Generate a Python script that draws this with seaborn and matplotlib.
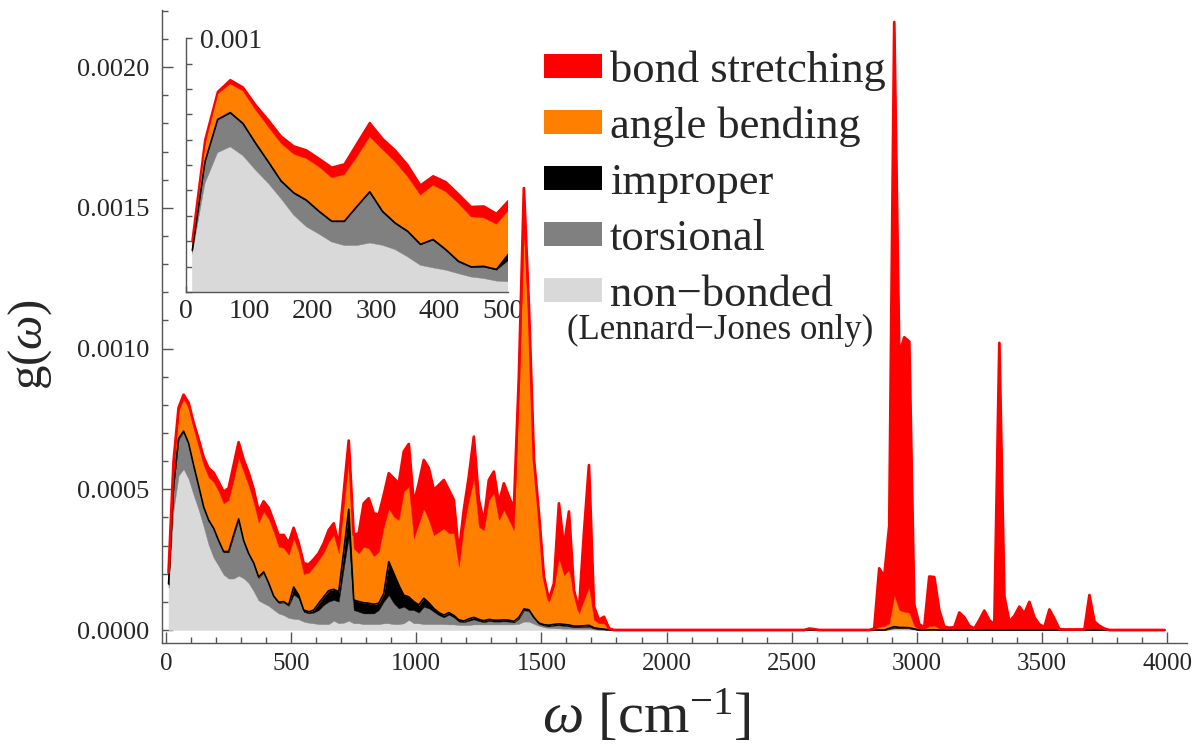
import numpy as np
import matplotlib
matplotlib.use("Agg")
import matplotlib.pyplot as plt
import seaborn as sns
from matplotlib.patches import Patch
from matplotlib.ticker import MultipleLocator, FormatStrFormatter, FixedLocator, FixedFormatter

# ---------------------------------------------------------------------------
# Vibrational density of states g(omega), split by force-field term.
# Values are given in units of 1e-4 on a 20 cm^-1 grid (10 ... 3990 cm^-1).
# ---------------------------------------------------------------------------
omega = np.arange(10, 4000, 20)

# low-frequency band: 10 ... 1790 cm^-1 (90 points)
nonbonded_low = [1.51, 4.28, 5.49, 5.72, 5.37, 4.80, 4.28, 3.68, 3.03, 2.57,
                 2.28, 1.97, 1.83, 1.83, 1.93, 1.84, 1.67, 1.38, 1.05, 0.95,
                 0.86, 0.72, 0.59, 0.53, 0.43, 0.40, 0.38, 0.30, 0.26, 0.24,
                 0.21, 0.21, 0.21, 0.33, 0.24, 0.26, 0.33, 0.24, 0.24, 0.21,
                 0.21, 0.21, 0.21, 0.24, 0.24, 0.21, 0.21, 0.24, 0.36, 0.24,
                 0.24, 0.21, 0.21, 0.21, 0.21, 0.21, 0.20, 0.20, 0.18, 0.18,
                 0.18, 0.20, 0.20, 0.20, 0.20, 0.20, 0.20, 0.20, 0.20, 0.20,
                 0.22, 0.30, 0.30, 0.22, 0.15, 0.10, 0.07, 0.07, 0.06, 0.05,
                 0.05, 0.04, 0.04, 0.04, 0.04, 0.02, 0.01, 0.01, 0.00, 0.00]
torsional_low = [0.10, 0.82, 1.28, 1.32, 1.24, 1.03, 0.82, 0.67, 0.85, 1.02,
                 0.87, 0.79, 0.93, 1.52, 1.99, 1.31, 1.02, 0.98, 0.80, 1.09,
                 0.78, 0.46, 0.37, 0.45, 0.43, 0.86, 0.75, 0.35, 0.33, 0.38,
                 0.50, 0.68, 0.80, 0.74, 0.77, 1.94, 2.99, 0.47, 0.41, 0.38,
                 0.38, 0.38, 0.50, 0.77, 1.00, 0.74, 0.56, 0.59, 0.35, 0.47,
                 0.38, 0.62, 0.56, 0.44, 0.32, 0.24, 0.35, 0.25, 0.12, 0.10,
                 0.15, 0.18, 0.12, 0.08, 0.12, 0.10, 0.10, 0.11, 0.10, 0.07,
                 0.18, 0.40, 0.38, 0.20, 0.07, 0.06, 0.06, 0.09, 0.11, 0.10,
                 0.08, 0.06, 0.06, 0.07, 0.08, 0.04, 0.02, 0.01, 0.01, 0.00]
improper_low = [0.03, 0.03, 0.03, 0.03, 0.03, 0.03, 0.03, 0.03, 0.03, 0.03,
                0.03, 0.03, 0.03, 0.03, 0.03, 0.03, 0.03, 0.03, 0.03, 0.03,
                0.03, 0.03, 0.03, 0.03, 0.03, 0.27, 0.11, 0.06, 0.06, 0.09,
                0.24, 0.29, 0.39, 0.38, 0.35, 0.60, 0.97, 0.36, 0.36, 0.38,
                0.36, 0.33, 0.24, 0.29, 1.19, 1.06, 0.83, 0.41, 0.47, 0.30,
                0.27, 0.30, 0.20, 0.12, 0.09, 0.08, 0.07, 0.07, 0.06, 0.04,
                0.07, 0.07, 0.06, 0.05, 0.06, 0.05, 0.05, 0.05, 0.05, 0.04,
                0.05, 0.05, 0.04, 0.03, 0.03, 0.03, 0.04, 0.04, 0.05, 0.05,
                0.05, 0.04, 0.04, 0.04, 0.05, 0.02, 0.02, 0.01, 0.00, 0.00]
angle_low = [0.27, 0.66, 1.00, 1.13, 1.28, 1.31, 1.38, 1.48, 1.52, 1.64,
             1.75, 1.71, 1.83, 1.95, 2.17, 2.44, 2.41, 2.15, 1.94, 2.14,
             2.28, 2.28, 1.97, 1.91, 1.78, 1.72, 1.55, 1.28, 1.39, 1.54,
             1.54, 1.57, 1.74, 1.93, 1.37, 1.60, 1.75, 1.83, 1.72, 1.99,
             1.95, 1.71, 1.83, 2.37, 1.89, 2.02, 2.31, 3.68, 3.91, 2.25,
             2.90, 3.19, 2.94, 2.60, 2.87, 3.08, 2.82, 2.92, 1.89, 3.35,
             4.22, 4.94, 3.29, 3.22, 4.24, 4.51, 3.56, 3.91, 3.56, 3.24,
             8.25, 13.45, 9.88, 5.35, 3.66, 1.59, 0.84, 1.34, 2.33, 1.75,
             1.95, 1.16, 0.45, 0.92, 1.37, 0.28, 0.19, 0.21, 0.01, 0.00]
bond_low = [0.13, 0.20, 0.09, 0.16, 0.15, 0.20, 0.27, 0.28, 0.32, 0.33,
            0.33, 0.41, 0.42, 0.53, 0.55, 0.43, 0.46, 0.46, 0.39, 0.36,
            0.39, 0.37, 0.40, 0.46, 0.42, 0.38, 0.29, 0.38, 0.29, 0.26,
            0.24, 0.33, 0.41, 0.41, 0.29, 0.48, 0.69, 0.48, 0.71, 1.54,
            1.78, 1.52, 1.31, 1.13, 1.25, 1.36, 1.30, 1.42, 1.52, 1.24,
            1.42, 1.72, 1.84, 1.61, 1.66, 1.72, 1.54, 1.18, 0.48, 0.60,
            0.83, 1.48, 0.95, 0.30, 0.71, 0.77, 0.59, 0.94, 0.83, 0.77,
            0.30, 1.50, 0.90, 0.30, 0.24, 0.12, 0.06, 0.12, 1.95, 1.01,
            2.08, 0.12, 0.12, 2.37, 4.32, 0.47, 0.12, 0.23, 0.04, 0.00]

# empty stretch 1810 ... 2530 cm^-1 (37 points)
gap_mid = [0.0] * 37

# high-frequency band: 2550 ... 3790 cm^-1 (63 points)
nonbonded_high = [0, 0, 0, 0, 0, 0, 0, 0, 0, 0, 0, 0, 0, 0,
                  0, 0, 0, 0.02, 0.05, 0.05, 0.05, 0.04, 0.02, 0,
                  0, 0, 0, 0, 0, 0, 0, 0, 0, 0, 0, 0, 0, 0, 0, 0, 0, 0, 0,
                  0, 0, 0, 0, 0, 0, 0, 0, 0, 0, 0, 0, 0, 0, 0, 0, 0, 0, 0, 0]
torsional_high = [0, 0, 0, 0, 0, 0, 0, 0, 0, 0, 0, 0, 0, 0,
                  0, 0, 0, 0.02, 0.03, 0.02, 0.02, 0.02, 0.01, 0,
                  0, 0.01, 0.01, 0, 0, 0, 0, 0, 0, 0, 0, 0, 0, 0, 0, 0, 0, 0, 0,
                  0, 0, 0, 0, 0, 0, 0, 0, 0, 0, 0, 0, 0, 0, 0, 0, 0, 0, 0, 0]
improper_high = [0, 0, 0, 0, 0, 0, 0, 0, 0, 0, 0, 0, 0, 0,
                 0, 0, 0, 0.02, 0.04, 0.02, 0.02, 0.02, 0.01, 0,
                 0, 0, 0, 0, 0, 0, 0, 0, 0, 0, 0, 0, 0, 0, 0, 0, 0, 0, 0,
                 0, 0, 0, 0, 0, 0, 0, 0, 0, 0, 0, 0, 0, 0, 0, 0, 0, 0, 0, 0]
angle_high = [0, 0.03, 0.02, 0, 0, 0, 0, 0, 0, 0, 0, 0, 0, 0,
              0.02, 0.12, 0.14, 0.18, 1.12, 0.62, 0.56, 0.54, 0.10, 0.03,
              0.03, 0.13, 0.15, 0.06, 0.03, 0.03, 0.03, 0.03, 0.03, 0.02,
              0.02, 0.02, 0.03, 0.02, 0.02, 0.05, 0.03, 0.02, 0.02, 0.02,
              0.02, 0.02, 0.02, 0.02, 0.02, 0.02, 0.02, 0.01, 0.01, 0.01,
              0.01, 0.01, 0.01, 0.02, 0.02, 0.01, 0.01, 0, 0]
bond_high = [0, 0.02, 0.01, 0, 0, 0, 0, 0, 0, 0, 0, 0, 0, 0,
             0.03, 2.07, 1.76, 3.46, 20.36, 9.09, 9.75, 9.63, 0.76, 0.17,
             0.07, 1.76, 1.72, 0.64, 0.09, 0.05, 0.07, 0.59, 0.42, 0.13,
             0.03, 0.33, 0.66, 0.33, 0.18, 10.15, 1.17, 0.28, 0.48, 0.81,
             0.57, 0.98, 0.43, 0.18, 0.08, 0.71, 0.38, 0.02, 0.01, 0.01,
             0.01, 0.01, 0.01, 1.22, 0.28, 0.14, 0.04, 0, 0]

# empty tail 3810 ... 3990 cm^-1 (10 points)
gap_tail = [0.0] * 10

labels = ["bond stretching", "angle bending", "improper", "torsional", "non\u2212bonded"]
colors = ["#ff0000", "#ff8000", "#000000", "#808080", "#d9d9d9"]


def band(low, high):
    return 1e-4 * np.array(low + gap_mid + high + gap_tail, dtype=float)


nonbonded = band(nonbonded_low, nonbonded_high)
torsional = band(torsional_low, torsional_high)
improper = band(improper_low, improper_high)
angle = band(angle_low, angle_high)
bond = band(bond_low, bond_high)

layers = [nonbonded, torsional, improper, angle, bond]
layer_colors = colors[::-1]

# ---------------------------------------------------------------------------
sns.set_style("ticks")
plt.rcParams["font.family"] = ["Liberation Serif", "DejaVu Serif"]
plt.rcParams["mathtext.fontset"] = "custom"
plt.rcParams["mathtext.rm"] = "Liberation Serif"
plt.rcParams["mathtext.it"] = "Liberation Serif:italic"

axis_grey = "#555555"

fig = plt.figure(figsize=(11.96, 7.5), dpi=100)
fig.patch.set_facecolor("white")
ax = fig.add_axes([0.1355, 0.1427, 0.857, 0.844])
ax_in = fig.add_axes([0.1555, 0.6107, 0.2692, 0.3383])
# the inset sits underneath the main curves
ax_in.set_zorder(1)
ax.set_zorder(2)
ax.patch.set_visible(False)
ax_in.patch.set_visible(False)


def draw_stack(a, top_lw, imp_lw):
    base = np.zeros_like(omega, dtype=float)
    for vals, col in zip(layers, layer_colors):
        a.fill_between(omega, base, base + vals, facecolor=col,
                       edgecolor=col, linewidth=0.3)
        base = base + vals
    lower = nonbonded + torsional + improper
    sns.lineplot(x=omega, y=lower, ax=a, color="black", linewidth=imp_lw,
                 legend=False)
    sns.lineplot(x=omega, y=base, ax=a, color="#ff0000", linewidth=top_lw,
                 legend=False)


def style_axes(a):
    for side in ("top", "right"):
        a.spines[side].set_visible(False)
    for side in ("left", "bottom"):
        a.spines[side].set_color(axis_grey)
        a.spines[side].set_linewidth(1.0)
    a.set_xlabel("")
    a.set_ylabel("")


# main panel
draw_stack(ax, 2.0, 1.2)
style_axes(ax)
ax.set_xlim(-16, 4080)
ax.set_ylim(-0.000046, 0.002203)
ax.xaxis.set_major_locator(MultipleLocator(500))
ax.xaxis.set_minor_locator(MultipleLocator(100))
ax.yaxis.set_major_locator(MultipleLocator(0.0005))
ax.yaxis.set_minor_locator(MultipleLocator(0.0001))
ax.yaxis.set_major_formatter(FormatStrFormatter("%.4f"))
ax.tick_params(which="both", direction="in", color=axis_grey, width=1.0)
ax.tick_params(which="major", length=8)
ax.tick_params(which="minor", length=4.5)
ax.tick_params(axis="x", labelsize=18, pad=7)
ax.tick_params(axis="y", labelsize=19, pad=9)
ax.set_xlabel("$\\omega$ [cm$^{-1}$]", fontsize=42)
ax.xaxis.set_label_coords(0.473, -0.072)
ax.set_ylabel("g($\\omega$)", fontsize=35)
ax.yaxis.set_label_coords(-0.105, 0.472)

# inset: low-frequency detail
draw_stack(ax_in, 1.5, 1.2)
style_axes(ax_in)
ax_in.set_xlim(0, 508)
ax_in.set_ylim(0, 0.001)
ax_in.xaxis.set_major_locator(MultipleLocator(100))
ax_in.xaxis.set_minor_locator(MultipleLocator(20))
ax_in.yaxis.set_major_locator(FixedLocator([0.001]))
ax_in.yaxis.set_major_formatter(FixedFormatter(["0.001"]))
ax_in.yaxis.set_minor_locator(MultipleLocator(0.0001))
ax_in.tick_params(which="both", direction="in", color=axis_grey, width=1.0,
                  length=4.5)
ax_in.tick_params(axis="x", labelsize=20, pad=5)
ax_in.tick_params(axis="y", labelsize=20, pad=-10)
for lab in ax_in.get_yticklabels():
    lab.set_horizontalalignment("left")

# legend
handles = [Patch(facecolor=c, edgecolor="none") for c in colors]
ax.legend(handles, labels, loc="upper left",
          bbox_to_anchor=(0.4548, 0.933), bbox_transform=fig.transFigure,
          frameon=False, fontsize=32, handlelength=1.3, handleheight=0.45,
          handletextpad=0.18, labelspacing=0.36, borderpad=0, borderaxespad=0)
fig.text(0.602, 1 - 330 / 750, "(Lennard\u2212Jones only)", ha="center",
         va="center", fontsize=25)

fig.savefig("out.png", dpi=100)
